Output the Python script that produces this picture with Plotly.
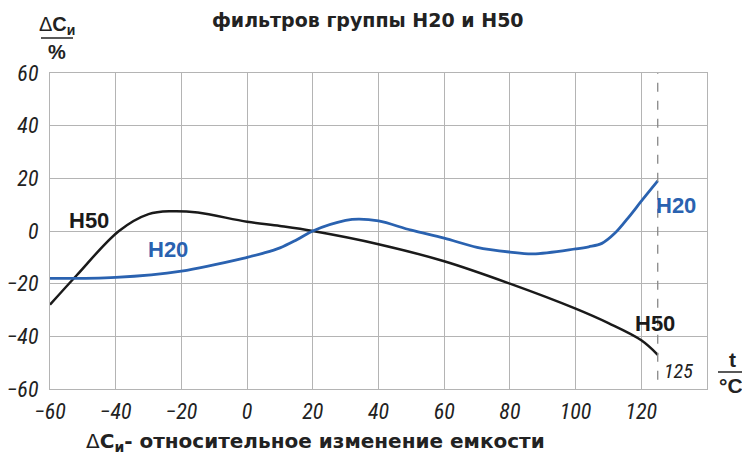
import plotly.graph_objects as go

# Data
h50_t = [-60, -52, -39, -30, -23, -15, 0, 10, 20, 40, 60, 80, 100, 110, 120, 125]
h50_v = [-28, -17, 0, 6.4, 7.5, 7, 3.5, 1.9, 0, -5, -11.5, -20, -29.5, -35, -41.5, -47]

h20_t = [-60, -40, -20, 0, 5, 10, 15, 20, 30, 34, 40, 50, 60, 70, 80, 87, 100, 104, 108, 112, 116, 120, 125]
h20_v = [-18, -17.6, -15.2, -10, -8.4, -6.4, -3.4, 0, 4, 4.5, 3.8, 0.3, -2.7, -6.2, -8, -8.7, -6.8, -6.0, -4.7, -0.8, 5, 11.3, 19]

x_ticks = [-60, -40, -20, 0, 20, 40, 60, 80, 100, 120]
y_ticks = [-60, -40, -20, 0, 20, 40, 60]
t_max = 125

BLACK = "#1a1a1a"
BLUE = "#2a62b0"
GRID = "#b4b4b4"
TXT = "#222"
TICKFONT = dict(family="Liberation Sans Narrow, Roboto Condensed, DejaVu Sans Condensed, sans-serif",
                size=22, color=TXT, style="italic")
SANS = "Liberation Sans, Arial, sans-serif"
WIDE = "DejaVu Sans, sans-serif"
LBLFONT = dict(family=SANS, size=22, weight="bold")

fig = go.Figure()
fig.add_trace(go.Scatter(x=h50_t, y=h50_v, mode="lines",
                         line=dict(color=BLACK, width=2.5, shape="spline", smoothing=1.0),
                         showlegend=False, hoverinfo="skip"))
fig.add_trace(go.Scatter(x=h20_t, y=h20_v, mode="lines",
                         line=dict(color=BLUE, width=2.8, shape="spline", smoothing=1.0),
                         showlegend=False, hoverinfo="skip"))

# page body has an 8px margin -> shift plot area accordingly
fig.update_layout(
    width=750, height=458,
    margin=dict(l=42, r=51, t=65, b=77),
    paper_bgcolor="white", plot_bgcolor="white",
    xaxis=dict(range=[-60, 140], tickvals=x_ticks, ticktext=[str(v).replace("-", "\u2212") for v in x_ticks],
               showgrid=True, gridcolor=GRID, gridwidth=1.3, zeroline=False, automargin=False,
               showline=True, linecolor=GRID, linewidth=1.3, mirror=True,
               tickfont=TICKFONT, ticks="", ticklabelstandoff=2),
    yaxis=dict(range=[-60, 60], tickvals=y_ticks, ticktext=[str(v).replace("-", "\u2212") for v in y_ticks],
               showgrid=True, gridcolor=GRID, gridwidth=1.3, zeroline=False, automargin=False,
               showline=True, linecolor=GRID, linewidth=1.3, mirror=True,
               tickfont=TICKFONT, ticks="", ticklabelstandoff=6),
)

# dashed line at 125
fig.add_shape(type="line", x0=t_max, x1=t_max, y0=-56.5, y1=60, xref="x", yref="y",
              line=dict(color="#888", width=1.3, dash="dash"))


def px(xp):
    return (xp - 50) / 657


def py(yp):
    return (389 - yp) / 316


def label(text, xp, yp, font, xanchor="center", yanchor="middle"):
    fig.add_annotation(text=text, xref="paper", yref="paper", x=px(xp), y=py(yp), showarrow=False,
                       xanchor=xanchor, yanchor=yanchor, font=font, borderpad=0)


label("<b>фильтров группы H20 и H50</b>", 368, 8, dict(family=WIDE, size=19, color=TXT), yanchor="top")
# y axis label
label("Δ<b>C</b><sub><b>и</b></sub>", 57, 25, dict(family=SANS, size=20, color=TXT))
fig.add_shape(type="line", xref="paper", yref="paper", x0=px(41), x1=px(73), y0=py(38), y1=py(38),
              line=dict(color=TXT, width=1.5))
label("<b>%</b>", 57, 52, dict(family=SANS, size=20, color=TXT))
# x axis unit
label("<b>t</b>", 732, 359, dict(family=SANS, size=21, color=TXT))
fig.add_shape(type="line", xref="paper", yref="paper", x0=px(718), x1=px(750), y0=py(372), y1=py(372),
              line=dict(color=TXT, width=1.5))
label("<b>°C</b>", 731, 385, dict(family=SANS, size=21, color=TXT))
# 125 label
fig.add_annotation(text=str(t_max), x=t_max + 1.3, y=-53, xref="x", yref="y", showarrow=False,
                   xanchor="left", yanchor="middle", font=dict(TICKFONT, size=20))
# curve labels
fig.add_annotation(text="H50", x=-48, y=3.8, xref="x", yref="y", showarrow=False,
                   font=dict(LBLFONT, color=BLACK))
fig.add_annotation(text="H20", x=-24, y=-7.2, xref="x", yref="y", showarrow=False,
                   font=dict(LBLFONT, color=BLUE))
fig.add_annotation(text="H20", x=130.5, y=9.8, xref="x", yref="y", showarrow=False,
                   font=dict(LBLFONT, color=BLUE))
fig.add_annotation(text="H50", x=124.2, y=-35, xref="x", yref="y", showarrow=False,
                   font=dict(LBLFONT, color=BLACK))
# bottom caption
label("Δ<b>C</b><sub><b>и</b></sub><b>- относительное изменение емкости</b>", 315, 442,
      dict(family=WIDE, size=20, color=TXT))

fig.write_html("out.html")
